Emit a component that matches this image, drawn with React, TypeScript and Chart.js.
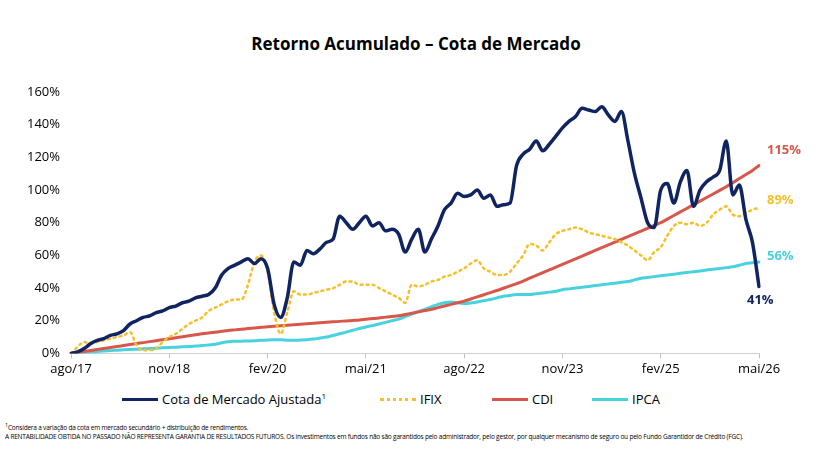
import { useEffect, useRef } from 'react';
import { Chart, registerables } from 'chart.js';

Chart.register(...registerables);

const MONTHS = ['jan', 'fev', 'mar', 'abr', 'mai', 'jun', 'jul', 'ago', 'set', 'out', 'nov', 'dez'];
const labels: string[] = [];
for (let i = 0; i < 106; i++) {
  const m = (7 + i) % 12;
  const y = 17 + Math.floor((7 + i) / 12);
  labels.push(`${MONTHS[m]}/${y}`);
}

const cota = [
  0, 1, 3, 6, 8, 9, 11, 12, 14, 18,
  20, 22, 23, 25, 26, 28, 29, 31, 32, 34,
  35, 36, 40, 48, 52, 54, 56, 58, 55, 58,
  52, 30, 22, 34, 56, 54, 63, 61, 64, 68,
  70, 84, 80, 76, 80, 84, 78, 80, 75, 76,
  73, 62, 70, 76, 62, 70, 78, 88, 92, 98,
  96, 97, 100, 95, 97, 90, 91, 92, 115, 122,
  125, 130, 124, 128, 133, 138, 142, 145, 150, 149,
  148, 151, 146, 142, 148, 130, 110, 95, 80, 77,
  100, 104, 92, 105, 112, 90, 100, 105, 108, 112,
  130, 97, 103, 82, 68, 41,
];
const ifix = [
  0, 4, 7, 6, 7, 8, 9, 10, 11, 13,
  5, 2, 2, 3, 7, 10, 12, 15, 18, 20,
  22, 26, 28, 30, 32, 33, 33, 42, 56, 60,
  50, 25, 12, 25, 38, 36, 36, 37, 38, 39,
  40, 42, 44, 44, 42, 42, 42, 40, 38, 36,
  34, 31, 42, 41, 42, 44, 45, 47, 48, 50,
  52, 55, 57, 52, 50, 48, 48, 50, 55, 60,
  67, 66, 63, 68, 73, 75, 76, 77, 76, 74,
  73, 72, 71, 70, 68, 66, 63, 60, 57, 62,
  65, 72, 78, 80, 79, 80, 78, 80, 85, 88,
  90, 85, 84, 86, 88, 89,
];
const cdi = [
  0, 0.6, 1.2, 1.8, 2.4, 3, 3.6, 4.2, 4.8, 5.4,
  6, 6.6, 7.2, 7.8, 8.4, 9, 9.6, 10.2, 10.8, 11.4,
  12, 12.5, 13, 13.5, 14, 14.4, 14.8, 15.2, 15.6, 16,
  16.3, 16.6, 16.9, 17.2, 17.5, 17.8, 18.1, 18.4, 18.7, 19,
  19.3, 19.6, 19.9, 20.2, 20.5, 20.9, 21.3, 21.7, 22.2, 22.6,
  23, 23.8, 24.6, 25.4, 26.2, 27, 28, 29, 30, 31,
  32, 33.3, 34.6, 35.9, 37.2, 38.5, 39.9, 41.3, 42.7, 44.2,
  46, 47.7, 49.4, 51.1, 52.8, 54.5, 56.2, 57.9, 59.6, 61.3,
  63, 64.7, 66.4, 68.1, 69.8, 71.5, 73.2, 74.9, 76.6, 78.3,
  80, 82.2, 84.4, 86.6, 88.8, 91, 93.2, 95.4, 97.6, 99.8,
  102, 104.5, 107, 109.5, 112, 115,
];
const ipca = [
  0, 0.3, 0.6, 0.9, 1.2, 1.5, 1.7, 2, 2.2, 2.4,
  2.6, 2.8, 3, 3.2, 3.4, 3.6, 3.8, 4, 4.2, 4.5,
  4.8, 5.2, 5.6, 6.5, 7.2, 7.4, 7.5, 7.6, 7.7, 8,
  8.2, 8.3, 8.3, 8.1, 8, 8.2, 8.4, 8.8, 9.4, 10,
  11, 12, 13, 14.2, 15.2, 16.2, 17, 18, 19, 20,
  21, 22.5, 24, 25.5, 27, 28.5, 30, 31, 31.5, 31,
  30.5, 30.8, 31.5, 32.3, 33, 34, 35, 35.5, 36, 36,
  36, 36.5, 37, 37.5, 38, 39, 39.5, 40, 40.5, 41,
  41.5, 42, 42.5, 43, 43.5, 44, 45, 46, 46.5, 47,
  47.5, 48, 48.5, 49, 49.5, 50, 50.5, 51, 51.5, 52,
  52.5, 53, 54, 55, 55.5, 56,
];

const NAVY = '#0f2461';
const GOLD = '#f5c02a';
const RED = '#d9574a';
const CYAN = '#47d2de';
const FONT = '"Open Sans", "Noto Sans", sans-serif';

const endLabels = {
  id: 'endLabels',
  afterDatasetsDraw(chart: any) {
    const ctx = chart.ctx;
    const offs = [[-12, 14], [8, -8], [8, -15], [8, -6]];
    chart.data.datasets.forEach((ds: any, i: number) => {
      const meta = chart.getDatasetMeta(i);
      const pt = meta.data[meta.data.length - 1];
      const v = ds.data[ds.data.length - 1];
      ctx.save();
      ctx.font = `bold 13px ${FONT}`;
      ctx.fillStyle = ds.labelColor;
      ctx.textAlign = 'left';
      ctx.textBaseline = 'middle';
      ctx.fillText(`${Math.round(v)}%`, pt.x + offs[i][0], pt.y + offs[i][1]);
      ctx.restore();
    });
  },
};

export default function App() {
  const ref = useRef<HTMLCanvasElement | null>(null);
  useEffect(() => {
    if (!ref.current) return;
    const chart = new Chart(ref.current, {
      type: 'line',
      data: {
        labels,
        datasets: [
          { label: 'Cota', data: cota, borderColor: NAVY, borderWidth: 3.5, labelColor: NAVY } as any,
          { label: 'IFIX', data: ifix, borderColor: GOLD, borderWidth: 2.5, borderDash: [2, 4], labelColor: GOLD } as any,
          { label: 'CDI', data: cdi, borderColor: RED, borderWidth: 3, labelColor: RED } as any,
          { label: 'IPCA', data: ipca, borderColor: CYAN, borderWidth: 3, labelColor: CYAN } as any,
        ],
      },
      options: {
        animation: false,
        responsive: false,
        elements: { point: { radius: 0 }, line: { cubicInterpolationMode: 'monotone', borderCapStyle: 'round' } },
        layout: { padding: { left: 24, right: 73, top: 17, bottom: 0 } },
        plugins: { legend: { display: false }, tooltip: { enabled: false } },
        scales: {
          x: {
            offset: false,
            grid: {
              drawOnChartArea: false,
              tickLength: 5,
              color: (c: any) => (c.index % 15 === 0 ? '#bfbfbf' : 'rgba(0,0,0,0)'),
            },
            border: { color: '#d0d0d0' },
            ticks: {
              autoSkip: false,
              maxRotation: 0,
              color: '#000',
              font: { family: FONT, size: 13 },
              callback: (_v: any, i: number) => (i % 15 === 0 ? labels[i] : ''),
            },
          },
          y: {
            min: 0,
            max: 160,
            grid: { display: false },
            border: { display: false },
            ticks: {
              stepSize: 20,
              color: '#000',
              font: { family: FONT, size: 13 },
              callback: (v: any) => `${v}%`,
            },
          },
        },
      },
      plugins: [endLabels],
    });
    return () => chart.destroy();
  }, []);

  const legendItem = (color: string, dashed: boolean, text: any, w: number) => (
    <div style={{ display: 'flex', alignItems: 'center', width: w }}>
      <div style={{ width: 36, height: 0, borderTop: dashed ? `3px dotted ${color}` : `3px solid ${color}`, marginRight: 4 }} />
      <span>{text}</span>
    </div>
  );

  return (
    <div style={{ position: 'fixed', left: 0, top: 0, width: 832, height: 454, background: '#fff', fontFamily: FONT, color: '#000' }}>
      <div style={{ position: 'absolute', top: 32, width: 832, textAlign: 'center', fontWeight: 'bold', fontSize: 17 }}>
        Retorno Acumulado – Cota de Mercado
      </div>
      <canvas ref={ref} width={832} height={305} style={{ position: 'absolute', left: 0, top: 75 }} />
      <div style={{ position: 'absolute', top: 390, left: 122, display: 'flex', fontSize: 13 }}>
        {legendItem(NAVY, false, <>Cota de Mercado Ajustada<sup style={{ fontSize: 8 }}>1</sup></>, 258)}
        {legendItem(GOLD, true, 'IFIX', 112)}
        {legendItem(RED, false, 'CDI', 100)}
        {legendItem(CYAN, false, 'IPCA', 100)}
      </div>
      <div style={{ position: 'absolute', top: 421, left: 5, fontSize: 6.5, lineHeight: '9px', letterSpacing: -0.2 }}>
        <div><sup>1</sup>Considera a variação da cota em mercado secundário + distribuição de rendimentos.</div>
        <div>A RENTABILIDADE OBTIDA NO PASSADO NÃO REPRESENTA GARANTIA DE RESULTADOS FUTUROS. Os investimentos em fundos não são garantidos pelo administrador, pelo gestor, por qualquer mecanismo de seguro ou pelo Fundo Garantidor de Crédito (FGC).</div>
      </div>
    </div>
  );
}
